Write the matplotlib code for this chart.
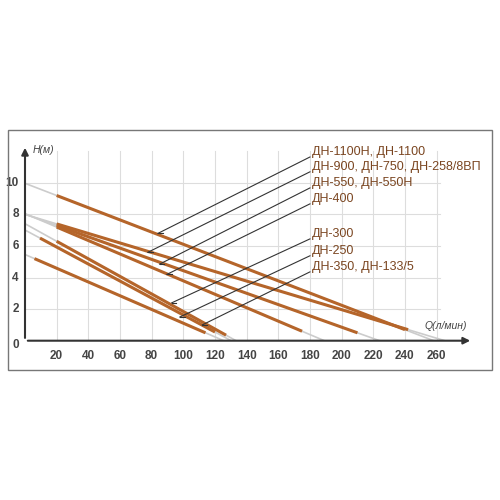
import numpy as np
import matplotlib.pyplot as plt
from matplotlib.patches import Rectangle

plt.rcParams['font.family'] = ['Liberation Sans', 'DejaVu Sans']

# pump curves: (Q start, H start, Q end, H end)
curves = [
    (20, 9.2, 240, 0.7),
    (20, 7.4, 242, 0.7),
    (20, 7.3, 210, 0.5),
    (20, 7.2, 175, 0.6),
    (20, 6.3, 127, 0.35),
    (9.5, 6.5, 120, 0.55),
    (6, 5.2, 114, 0.5),
]
labels = ['ДН-1100Н, ДН-1100', 'ДН-900, ДН-750, ДН-258/8ВП', 'ДН-550, ДН-550Н',
          'ДН-400', 'ДН-300', 'ДН-250', 'ДН-350, ДН-133/5']
label_h = [11.94, 11.0, 9.98, 8.97, 6.75, 5.68, 4.66]
lead_q = [84, 77.6, 85, 89.6, 92.7, 97.8, 112]
lead_h = [6.8, 5.6, 4.85, 4.2, 2.4, 1.5, 1.0]
label_q = 180

xticks = list(range(20, 261, 20))
yticks = [2, 4, 6, 8, 10]

fig = plt.figure(figsize=(5, 5), dpi=100)
fig.patches.append(Rectangle((0.016, 0.26), 0.968, 0.48, transform=fig.transFigure,
                             fill=False, ec='#777777', lw=1))
ax = fig.add_axes([0.05, 0.3186, 0.896, 0.3914])
ax.set_xlim(0, 283)
ax.set_ylim(0, 12.4)
ax.axis('off')

for x in xticks:
    ax.plot([x, x], [0, 12.0], color='#dddddd', lw=0.8, zorder=0)
for y in yticks:
    ax.plot([0, 262], [y, y], color='#dddddd', lw=0.8, zorder=0)

for q0, h0, q1, h1 in curves:
    k = (h1 - h0) / (q1 - q0)
    hz = h0 - k * q0
    qz = -hz / k
    ax.plot([0, qz], [hz, 0], color='#cccccc', lw=1.2, zorder=1)
    ax.plot([q0, q1], [h0, h1], color='#b5652a', lw=2.2, solid_capstyle='butt', zorder=2)

for lq, lh, th, t in zip(lead_q, lead_h, label_h, labels):
    ax.plot([lq, label_q], [lh, th - 0.3], color='#333333', lw=0.8, zorder=3)
    ax.plot([lq, lq + 3], [lh, lh], color='#333333', lw=0.8, zorder=3)
    ax.text(label_q + 1, th, t, fontsize=9, color='#7a4520', va='center', ha='left')

ax.annotate('', xy=(283, 0), xytext=(0, 0),
            arrowprops=dict(arrowstyle='-|>', color='#333333', lw=1.5), annotation_clip=False)
ax.annotate('', xy=(0, 12.4), xytext=(0, 0),
            arrowprops=dict(arrowstyle='-|>', color='#333333', lw=1.5), annotation_clip=False)

for x in xticks:
    ax.text(x, -1.0, str(x), ha='center', va='center', fontsize=8.5, color='#444444', fontweight='bold')
for y in yticks:
    ax.text(-4, y, str(y), ha='right', va='center', fontsize=8.5, color='#444444', fontweight='bold')
ax.text(-4, -0.3, '0', ha='right', va='center', fontsize=8.5, color='#444444', fontweight='bold')
ax.text(5, 12.1, 'H(м)', fontsize=7.5, style='italic', color='#444444', va='center')
ax.text(266, 0.9, 'Q(л/мин)', fontsize=7.5, style='italic', color='#444444', ha='center', va='center')

fig.savefig('out.png')
